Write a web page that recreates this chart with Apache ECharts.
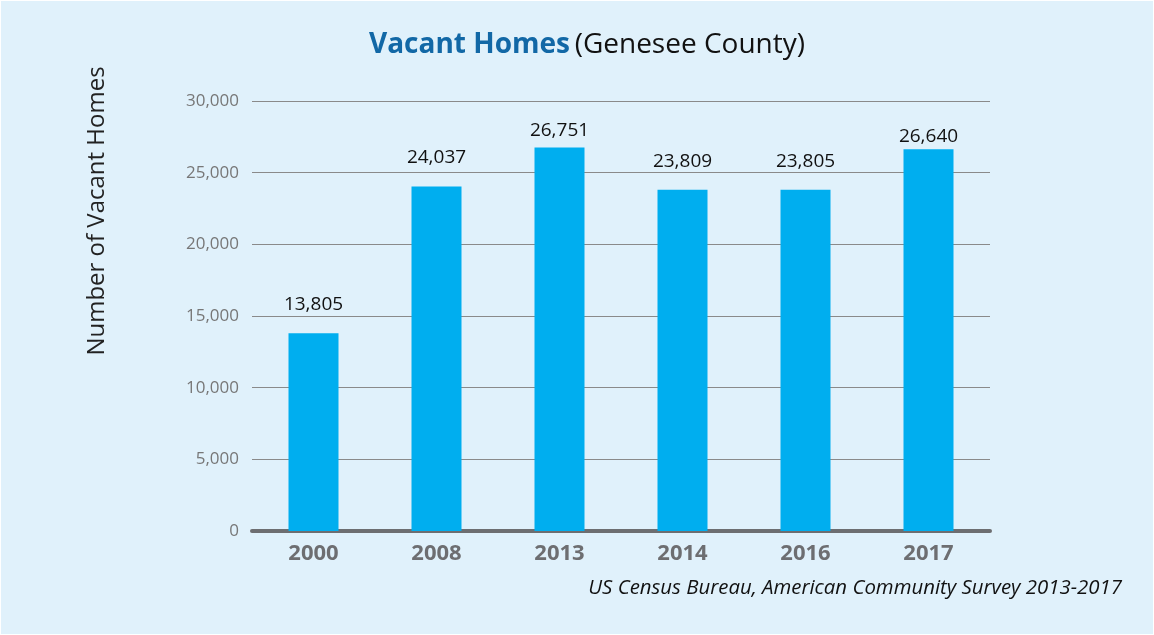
<!DOCTYPE html>
<html><head><meta charset="utf-8">
<script src="https://cdn.jsdelivr.net/npm/echarts@6/dist/echarts.min.js"></script>
<style>html,body{margin:0;padding:0;background:#fff;}#c{position:absolute;left:1px;top:1px;width:1152px;height:633px;background:#e0f1fb;}</style>
</head><body><div id="c"></div>
<script>
const categories = ['2000','2008','2013','2014','2016','2017'];
const vacantHomes = [13805, 24037, 26751, 23809, 23805, 26640];
const yTicks = [0, 5000, 10000, 15000, 20000, 25000, 30000];

const chart = echarts.init(document.getElementById('c'));
const fmt = v => v.toLocaleString('en-US');
// label offsets (style only) for the tallest bars, whose labels sit closer to the bar top
const labelDistanceOverride = { 2: 7, 5: 3 };
const barData = vacantHomes.map((v, i) => (
  i in labelDistanceOverride ? { value: v, label: { distance: labelDistanceOverride[i] } } : v
));
chart.setOption({
  backgroundColor: '#e0f1fb',
  textStyle: { fontFamily: 'Open Sans' },
  title: {
    text: '{b|Vacant Homes} {n|(Genesee County)}',
    left: 363, top: 25,
    textStyle: { rich: {
      b: { fontSize: 28, fontWeight: 'bold', color: '#1268a6', fontFamily: 'Open Sans' },
      n: { fontSize: 28, fontWeight: 'normal', color: '#111', fontFamily: 'Open Sans' }
    } }
  },
  graphic: [
    { type: 'text', x: 96, y: 210, rotation: Math.PI/2,
      style: { text: 'Number of Vacant Homes', fontSize: 24, fill: '#222', fontFamily: 'Open Sans', align: 'center', verticalAlign: 'middle' } },
    { type: 'text', right: 31, top: 577,
      style: { text: 'US Census Bureau, American Community Survey 2013-2017', fontSize: 20.4, fontStyle: 'italic', fill: '#111', fontFamily: 'Open Sans' } }
  ],
  grid: { left: 251, right: 163, top: 100, bottom: 103, containLabel: false },
  xAxis: {
    type: 'category', data: categories,
    axisLine: { lineStyle: { color: '#6d6e71', width: 4 } },
    axisTick: { show: false },
    axisLabel: { fontSize: 22, fontWeight: 'bold', color: '#6d6e71', margin: 12 }
  },
  yAxis: {
    type: 'value', min: 0, max: 30000, interval: 5000,
    axisLine: { show: false }, axisTick: { show: false },
    axisLabel: { fontSize: 17, color: '#777', margin: 13, formatter: v => yTicks.includes(v) ? fmt(v) : '' },
    splitLine: { lineStyle: { color: '#8a8a8a', width: 1 } }
  },
  series: [{
    type: 'bar', data: barData, barWidth: 50,
    itemStyle: { color: '#00aeef' },
    label: { show: true, position: 'top', distance: 19, fontSize: 19, color: '#111', formatter: p => fmt(p.value) }
  }]
});
</script></body></html>
